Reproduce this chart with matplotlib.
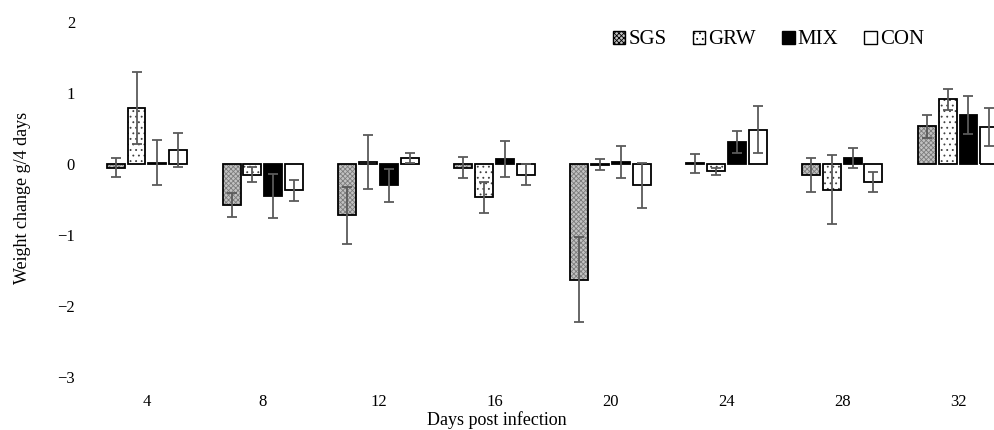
import matplotlib.pyplot as plt
import numpy as np

plt.rcParams['font.family'] = ['Liberation Serif', 'DejaVu Serif']
plt.rcParams['hatch.linewidth'] = 0.6

# data
days = ['4', '8', '12', '16', '20', '24', '28', '32']
groups = ['SGS', 'GRW', 'MIX', 'CON']
sgs = [-0.05, -0.58, -0.72, -0.05, -1.63, 0.01, -0.16, 0.53]
sgs_err = [0.13, 0.17, 0.40, 0.15, 0.60, 0.13, 0.24, 0.16]
grw = [0.79, -0.15, 0.03, -0.47, -0.01, -0.10, -0.36, 0.91]
grw_err = [0.51, 0.11, 0.38, 0.22, 0.08, 0.05, 0.48, 0.15]
mix = [0.02, -0.45, -0.30, 0.07, 0.03, 0.31, 0.09, 0.69]
mix_err = [0.32, 0.31, 0.23, 0.26, 0.23, 0.16, 0.14, 0.27]
con = [0.20, -0.37, 0.09, -0.15, -0.30, 0.48, -0.25, 0.52]
con_err = [0.24, 0.15, 0.07, 0.15, 0.32, 0.33, 0.14, 0.27]

values = [sgs, grw, mix, con]
errors = [sgs_err, grw_err, mix_err, con_err]

fig = plt.figure(figsize=(9.95, 4.30), dpi=100)
# axes runs a bit past the right edge, like the cropped original
ax = fig.add_axes([89 / 995, 53 / 430, 927 / 995, 355 / 430])

x = np.arange(len(days))
step = 0.18
width = 0.155
styles = [
    dict(face='#c2c2c2', hatch='xxxxxxx', hcol='#7c7c7c'),
    dict(face='white', hatch='...', hcol='#404040'),
    dict(face='black', hatch=None, hcol='black'),
    dict(face='white', hatch=None, hcol='white'),
]

handles = []
for i, (vals, errs, st) in enumerate(zip(values, errors, styles)):
    pos = x + (i - 1.5) * step
    if st['hatch']:
        ax.bar(pos, vals, width, color=st['face'], hatch=st['hatch'],
               edgecolor=st['hcol'], linewidth=0, zorder=2)
    else:
        ax.bar(pos, vals, width, color=st['face'], linewidth=0, zorder=2)
    ax.bar(pos, vals, width, fill=False, edgecolor='black', linewidth=1.3, zorder=3)
    ax.errorbar(pos, vals, yerr=errs, fmt='none', ecolor='#5a5a5a',
                elinewidth=1.3, capsize=3.5, capthick=1.3, zorder=4)
    h = plt.Rectangle((0, 0), 1, 1, facecolor=st['face'], hatch=st['hatch'],
                      edgecolor='black', linewidth=1.0)
    handles.append(h)

ax.set_xlim(-0.5, len(days) - 0.5)
ax.set_ylim(-3, 2)
ax.set_yticks([-3, -2, -1, 0, 1, 2])
ax.set_yticklabels(['\u22123', '\u22122', '\u22121', '0', '1', '2'])
ax.set_xticks(x)
ax.set_xticklabels(days)
ax.tick_params(axis='both', length=0, labelsize=12)
ax.tick_params(axis='y', pad=10)
ax.tick_params(axis='x', pad=12)
for s in ax.spines.values():
    s.set_visible(False)

fig.text(497 / 995, 1 - 420 / 430, 'Days post infection', ha='center',
         va='center', fontsize=13)
fig.text(23 / 995, 1 - 198 / 430, 'Weight change g/4 days', ha='center',
         va='center', rotation=90, fontsize=13)

fig.legend(handles, groups, loc='center left', bbox_to_anchor=(613 / 995, 1 - 40 / 430),
           ncol=4, frameon=False, fontsize=15, borderpad=0, borderaxespad=0,
           handlelength=0.6, handleheight=0.6, handletextpad=0.15,
           columnspacing=1.25)

fig.savefig('out.png', dpi=100)
